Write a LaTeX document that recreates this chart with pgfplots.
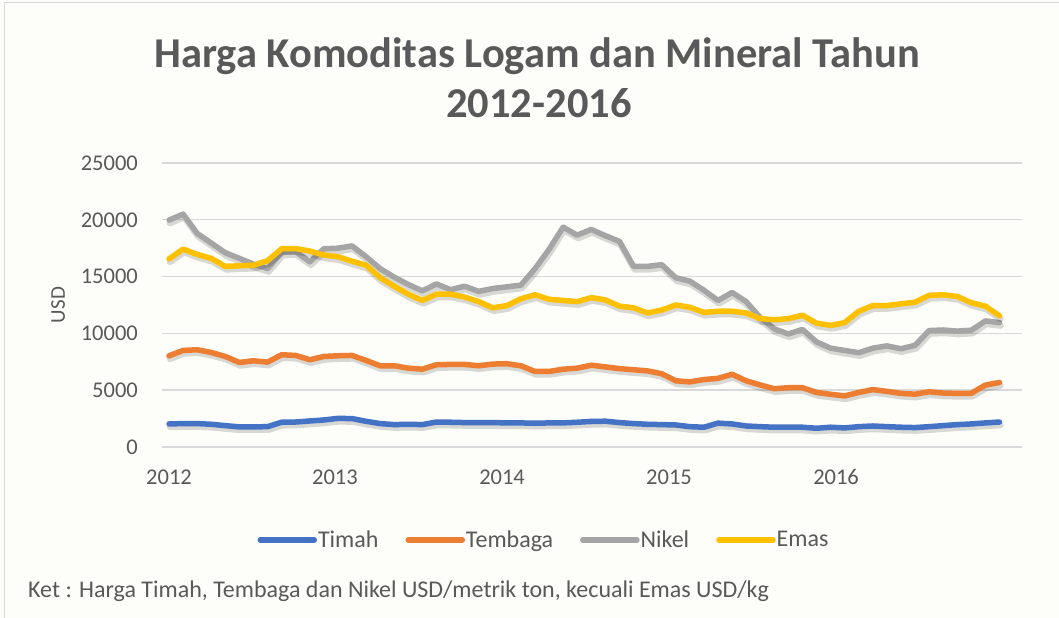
\documentclass[border=0pt]{standalone}
\usepackage{fontspec}
\setmainfont{Carlito}
\usepackage{pgfplots}
\pgfplotsset{compat=1.18}
\usepackage{pgfplotstable}

\definecolor{timah}{HTML}{4472C4}
\definecolor{tembaga}{HTML}{ED7D31}
\definecolor{nikel}{HTML}{A5A5A5}
\definecolor{emas}{HTML}{FFC000}
\definecolor{txt}{HTML}{595959}
\definecolor{gridc}{HTML}{D9D9D9}
\definecolor{bg}{HTML}{FDFDF9}

\pgfplotstableread{
i timah tembaga nikel emas
0 2030 8030 19970 16560
1 2060 8500 20500 17420
2 2060 8560 18800 16950
3 2000 8320 17950 16600
4 1880 7970 17100 15900
5 1770 7440 16600 15950
6 1770 7590 16100 16000
7 1790 7470 15700 16400
8 2180 8120 17150 17450
9 2200 8060 17200 17470
10 2290 7680 16300 17250
11 2380 7970 17450 16900
12 2520 8030 17500 16750
13 2500 8060 17700 16350
14 2260 7620 16750 16000
15 2060 7150 15700 14900
16 1970 7150 14950 14150
17 2000 6940 14300 13450
18 1970 6850 13750 12900
19 2200 7240 14350 13450
20 2180 7270 13850 13450
21 2150 7270 14150 13200
22 2150 7150 13700 12800
23 2150 7300 13950 12250
24 2120 7330 14100 12450
25 2120 7150 14250 13050
26 2090 6650 15700 13400
27 2120 6650 17400 13000
28 2120 6850 19350 12900
29 2180 6940 18650 12800
30 2250 7200 19150 13150
31 2270 7050 18600 12950
32 2150 6900 18100 12400
33 2060 6800 15900 12250
34 2000 6700 15900 11800
35 1970 6450 16050 12050
36 1940 5830 14900 12500
37 1790 5730 14600 12300
38 1740 5940 13800 11850
39 2100 6040 12900 11950
40 2030 6400 13600 11950
41 1850 5830 12800 11800
42 1790 5460 11400 11300
43 1740 5130 10400 11200
44 1740 5220 9950 11300
45 1740 5220 10350 11600
46 1650 4800 9250 10900
47 1740 4640 8700 10700
48 1680 4500 8500 10950
49 1790 4800 8300 11950
50 1850 5050 8700 12450
51 1790 4900 8900 12450
52 1740 4720 8650 12600
53 1710 4650 8950 12750
54 1790 4860 10250 13350
55 1880 4750 10300 13400
56 1970 4720 10200 13250
57 2030 4730 10280 12700
58 2120 5450 11100 12400
59 2200 5680 10950 11550
}\data

\begin{document}
\begin{tikzpicture}
\fill[bg] (0bp,0bp) rectangle (1059bp,618bp);
\draw[gridc, line width=1.5bp] (4.5bp,0bp) -- (4.5bp,615.5bp) -- (1059bp,615.5bp);
\node[txt, font=\fontsize{42.5bp}{46bp}\selectfont\bfseries, anchor=base] at (537bp,550bp) {Harga Komoditas Logam dan Mineral Tahun};
\node[txt, font=\fontsize{42.5bp}{46bp}\selectfont\bfseries, anchor=base] at (539bp,500bp) {2012-2016};
\node[txt, font=\fontsize{24bp}{28bp}\selectfont, anchor=base west, inner sep=0pt] at (28bp,21bp) {Ket : Harga Timah, Tembaga dan Nikel USD/metrik ton, kecuali Emas USD/kg};
\begin{axis}[
  at={(162bp,171bp)}, anchor=south west,
  scale only axis, width=860bp, height=284bp,
  xmin=-0.5, xmax=60.6, ymin=0, ymax=25000,
  axis line style={draw=none},
  major tick length=0pt,
  ytick={0,5000,10000,15000,20000,25000},
  scaled y ticks=false,
  ymajorgrids, grid style={gridc, line width=1.4bp},
  xtick={0,11.79,23.66,35.52,47.39},
  xticklabels={2012,2013,2014,2015,2016},
  /pgf/number format/assume math mode=true,
  /pgf/number format/1000 sep={},
  tick label style={txt, font=\fontsize{22.5bp}{26bp}\selectfont},
  yticklabel style={anchor=east, inner sep=0pt, xshift=-24bp},
  xticklabel style={anchor=center, inner sep=0pt, yshift=-30bp},
  ylabel={USD},
  every axis y label/.style={at={(axis description cs:-0.1209,0.5)}, rotate=90, anchor=center, txt, font=\fontsize{21bp}{24bp}\selectfont},
  legend columns=4,
  legend style={at={(axis description cs:0.4436,-0.327)}, anchor=center, draw=none, fill=none, text=txt, font=\fontsize{24bp}{28bp}\selectfont, inner sep=0pt,
    nodes={inner sep=1bp},
    /tikz/every even column/.append style={column sep=26bp}},
  legend image code/.code={\draw[#1, line width=5.5bp, line cap=round] (0bp,0bp) -- (54bp,0bp);},
  every axis plot/.append style={line join=round, line cap=round},
]
\addplot[forget plot, black, opacity=0.15, line width=6.5bp, yshift=-3bp, xshift=1bp] table[x=i,y=timah]{\data};
\addplot[timah, line width=5.5bp] table[x=i,y=timah]{\data};
\addlegendentry{Timah}
\addplot[forget plot, black, opacity=0.15, line width=6.5bp, yshift=-3bp, xshift=1bp] table[x=i,y=tembaga]{\data};
\addplot[tembaga, line width=5.5bp] table[x=i,y=tembaga]{\data};
\addlegendentry{Tembaga}
\addplot[forget plot, black, opacity=0.15, line width=6.5bp, yshift=-3bp, xshift=1bp] table[x=i,y=nikel]{\data};
\addplot[nikel, line width=5.5bp] table[x=i,y=nikel]{\data};
\addlegendentry{Nikel}
\addplot[forget plot, black, opacity=0.15, line width=6.5bp, yshift=-3bp, xshift=1bp] table[x=i,y=emas]{\data};
\addplot[emas, line width=5.5bp] table[x=i,y=emas]{\data};
\addlegendentry{Emas}
\end{axis}
\pgfresetboundingbox
\useasboundingbox (0bp,0bp) rectangle (1059bp,618bp);
\end{tikzpicture}
\end{document}
